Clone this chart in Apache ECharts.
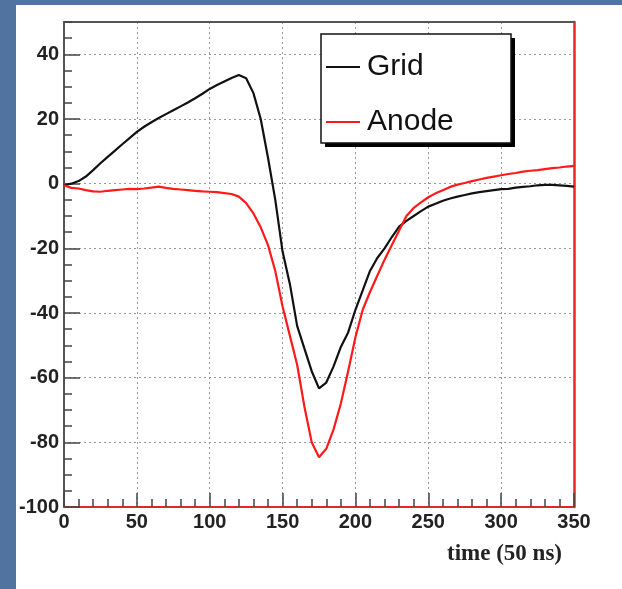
<!DOCTYPE html>
<html>
<head>
<meta charset="utf-8">
<script src="https://cdn.jsdelivr.net/npm/echarts@6/dist/echarts.min.js"></script>
<style>
html,body{margin:0;padding:0;background:#50739f;}
#chart{width:622px;height:589px;}
</style>
</head>
<body>
<div id="chart"></div>
<script>
// time axis samples (units of 50 ns)
const times = [0,5,10,15,20,25,30,35,40,45,50,55,60,65,70,75,80,85,90,95,100,105,110,115,120,125,130,135,140,145,150,155,160,165,170,175,180,185,190,195,200,205,210,215,220,225,230,235,240,245,250,255,260,265,270,275,280,285,290,295,300,305,310,315,320,325,330,335,340,345,350];
const gridValues = [-0.5,0,0.8,2.2,4.2,6.3,8.3,10.2,12.2,14.1,16,17.6,19,20.3,21.5,22.7,23.9,25.1,26.4,27.8,29.3,30.5,31.6,32.7,33.6,32.6,28,20,8,-5,-21,-31,-44,-51,-58,-63.3,-61.5,-56.5,-50.5,-46,-39,-33,-27,-23,-20,-16.5,-13.3,-11.5,-10,-8.5,-7.1,-6.2,-5.3,-4.6,-4,-3.5,-3,-2.6,-2.3,-2,-1.7,-1.6,-1.2,-1,-0.8,-0.5,-0.4,-0.4,-0.5,-0.7,-0.9];
const anodeValues = [-0.5,-1.3,-1.5,-2,-2.4,-2.5,-2.2,-2,-1.8,-1.6,-1.7,-1.5,-1.2,-0.9,-1.3,-1.6,-1.8,-2,-2.2,-2.4,-2.5,-2.6,-2.9,-3.2,-4,-6,-9.2,-13.5,-19,-27,-38,-47,-56,-69,-80,-84.6,-82,-76,-68,-58,-47.5,-39,-33.5,-28.5,-23.5,-19,-14.5,-10,-7.5,-5.8,-4.2,-3,-2,-1,-0.3,0.2,0.8,1.3,1.8,2.2,2.6,3,3.3,3.7,4,4.2,4.5,4.8,5,5.3,5.5];
const seriesNames = ['Grid','Anode'];
const xTicks = {min:0, max:350, step:50};
const yTicks = {min:-100, max:50, step:20, minorStep:5};
const axisTitle = 'time (50 ns)';

const pairs = vals => times.map((t,i)=>[t, vals[i]]);
const labelFont = {fontFamily:'Liberation Sans, Arial, sans-serif', fontWeight:'bold', fontSize:20, color:'#222'};
const gridLine = {show:true, lineStyle:{color:'#999', type:[2,3], width:1}};

const chart = echarts.init(document.getElementById('chart'), null, {renderer:'canvas'});
chart.setOption({
  animation:false,
  backgroundColor:'#50739f',
  grid:{left:64, top:22, right:48, bottom:82},
  graphic:[
    {type:'rect', z:-10, shape:{x:16,y:5,width:606,height:584}, style:{fill:'#ffffff'}},
    {type:'rect', z:3, shape:{x:325,y:38,width:190,height:109}, style:{fill:'#000000'}},
    {type:'rect', z:3, shape:{x:321,y:34,width:190,height:109}, style:{fill:'#ffffff', stroke:'#111', lineWidth:1.5}},
    {type:'text', z:5, right:60, top:543, style:{text:axisTitle, font:'bold 23px "Liberation Serif", "Times New Roman", serif', fill:'#222'}}
  ],
  legend:{
    data:seriesNames.map(n=>({name:n, icon:'rect'})), orient:'vertical', left:326, top:50, z:6,
    itemWidth:34, itemHeight:2, itemGap:21,
    textStyle:{fontFamily:'Liberation Sans, Arial, sans-serif', fontSize:30, color:'#111', lineHeight:34, padding:[0,0,0,2]},
    padding:0
  },
  xAxis:[
    {type:'value', position:'bottom', min:xTicks.min, max:xTicks.max, interval:xTicks.step,
     axisLine:{onZero:false, lineStyle:{color:'#e8262a', width:2}},
     axisTick:{inside:true, length:14, lineStyle:{color:'#444', width:1.5}},
     minorTick:{show:true, splitNumber:5, length:8, lineStyle:{color:'#444', width:1.5}},
     axisLabel:Object.assign({margin:5}, labelFont),
     splitLine:gridLine},
    {type:'value', position:'top', min:xTicks.min, max:xTicks.max,
     axisLine:{onZero:false, lineStyle:{color:'#555', width:2}},
     axisTick:{show:false}, axisLabel:{show:false}, splitLine:{show:false}}
  ],
  yAxis:[
    {type:'value', position:'left', min:yTicks.min, max:yTicks.max, interval:yTicks.step,
     axisLine:{onZero:false, lineStyle:{color:'#555', width:2}},
     axisTick:{inside:true, length:16, lineStyle:{color:'#444', width:1.5}},
     axisLabel:Object.assign({margin:5, showMaxLabel:false}, labelFont),
     splitLine:gridLine},
    {type:'value', position:'left', min:yTicks.min, max:yTicks.max, interval:yTicks.minorStep,
     axisLine:{show:false, onZero:false},
     axisTick:{inside:true, length:8, lineStyle:{color:'#444', width:1.5}},
     axisLabel:{show:false}, splitLine:{show:false}},
    {type:'value', position:'right', min:yTicks.min, max:yTicks.max,
     axisLine:{show:true, onZero:false, lineStyle:{color:'#e8262a', width:2.5}},
     axisTick:{show:false}, axisLabel:{show:false}, splitLine:{show:false}}
  ],
  series:[
    {name:seriesNames[0], type:'line', data:pairs(gridValues), symbol:'none', smooth:false,
     lineStyle:{color:'#111', width:2.2}, itemStyle:{color:'#111'}, z:2},
    {name:seriesNames[1], type:'line', data:pairs(anodeValues), symbol:'none', smooth:false,
     lineStyle:{color:'#ff1a1a', width:2.2}, itemStyle:{color:'#ff1a1a'}, z:2}
  ]
});
</script>
</body>
</html>
